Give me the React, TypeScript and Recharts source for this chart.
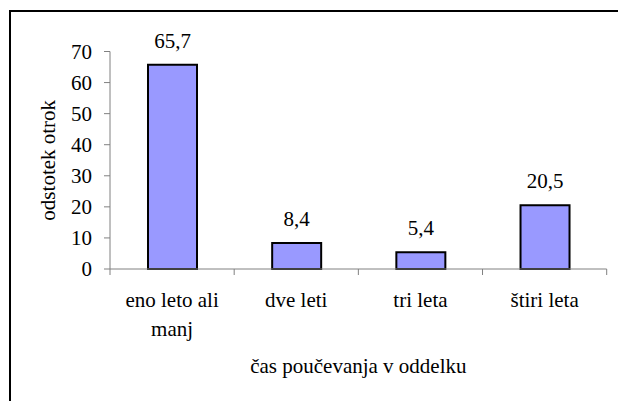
import React from 'react';
import { BarChart, Bar, XAxis, YAxis, LabelList } from 'recharts';

const categories = ['eno leto ali manj', 'dve leti', 'tri leta', 'štiri leta'];
const tickLines = [['eno leto ali', 'manj'], ['dve leti'], ['tri leta'], ['štiri leta']];
const shares = [65.7, 8.4, 5.4, 20.5];
const yTicks = [0, 10, 20, 30, 40, 50, 60, 70];

const data = categories.map((name, i) => ({ name, value: shares[i] }));

const FONT = 'Liberation Serif';
const AXIS = '#808080';
const txt = { fontFamily: FONT, fontSize: 21, fill: '#000' };

// category tick: tick marks sit on the band edges, label wraps under the bar
const CategoryTick = (props: any) => {
  const { x, y, payload, index, visibleTicksCount } = props;
  const half = payload && payload.offset ? payload.offset : 62;
  const last = index === visibleTicksCount - 1;
  const lines = tickLines[index] || [String(payload.value)];
  return (
    <g>
      <line x1={x - half} x2={x - half} y1={y} y2={y + 6} stroke={AXIS} strokeWidth={1} />
      {last && <line x1={x + half} x2={x + half} y1={y} y2={y + 6} stroke={AXIS} strokeWidth={1} />}
      <text x={x} y={y + 38} textAnchor="middle" style={txt}>
        {lines.map((l, i) => (
          <tspan key={i} x={x} dy={i === 0 ? 0 : 29}>
            {l}
          </tspan>
        ))}
      </text>
    </g>
  );
};

const App: React.FC = () => {
  return (
    <div
      style={{
        position: 'absolute',
        left: 0,
        top: 0,
        width: 618,
        height: 401,
        overflow: 'hidden',
        background: '#fff',
      }}
    >
      <div
        style={{
          position: 'absolute',
          left: 9,
          top: 10,
          width: 700,
          height: 500,
          border: '2px solid #000',
        }}
      />
      <div style={{ position: 'absolute', left: 0, top: 0 }}>
        <BarChart
          width={618}
          height={401}
          data={data}
          margin={{ top: 51.5, right: 11.3, left: 0, bottom: 22 }}
        >
          <XAxis
            dataKey="name"
            height={110}
            axisLine={{ stroke: AXIS, strokeWidth: 1 }}
            tickLine={false}
            tickSize={0}
            tickMargin={0}
            interval={0}
            tick={<CategoryTick />}
            label={{
              value: 'čas poučevanja v oddelku',
              position: 'insideBottom',
              offset: 6,
              style: txt,
            }}
          />
          <YAxis
            width={110}
            domain={[0, 70]}
            ticks={yTicks}
            interval={0}
            axisLine={{ stroke: AXIS, strokeWidth: 1 }}
            tickLine={{ stroke: AXIS, strokeWidth: 1 }}
            tickSize={6}
            tickMargin={12}
            tick={{ style: txt, fill: '#000' }}
            label={{
              value: 'odstotek otrok',
              angle: -90,
              position: 'insideLeft',
              offset: 48,
              style: { ...txt, textAnchor: 'middle' },
            }}
          />
          <Bar dataKey="value" fill="#9999FF" stroke="#000" strokeWidth={2} barSize={49} isAnimationActive={false}>
            <LabelList
              dataKey="value"
              position="top"
              offset={17}
              formatter={(v: any) => String(v).replace('.', ',')}
              style={txt}
            />
          </Bar>
        </BarChart>
      </div>
    </div>
  );
};

export default App;
